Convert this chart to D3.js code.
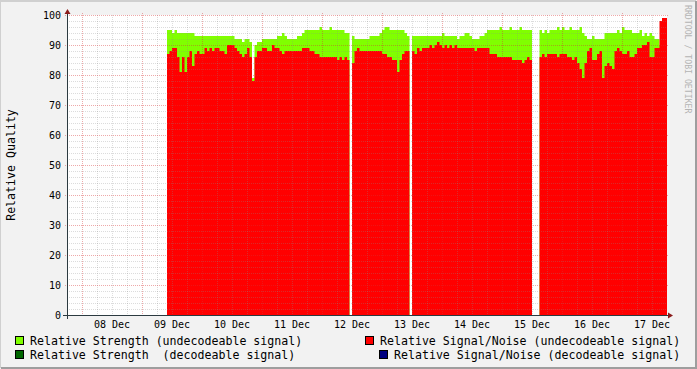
<!DOCTYPE html>
<html><head><meta charset="utf-8">
<script src="https://cdn.jsdelivr.net/npm/d3@7"></script>
<style>html,body{margin:0;padding:0;background:#F2F2F2;}svg{display:block;}</style>
</head><body>
<svg id="c" width="697" height="369"></svg>
<script>
// ---- data (hourly samples starting 09 Dec 10:00) ----
const startTime = Date.UTC(2013, 11, 9, 10);
const stepMs = 3600e3;
const strengthUndecodeable = [
 95,95,94,95,94,94,94,94,94,94,
 94,93,93,93,93,93,93,93,93,93,
 93,93,93,93,93,93,93,92,92,92,
 91,92,92,91,79,90,91,91,92,92,
 92,92,92,92,93,93,94,93,92,92,
 92,92,93,93,94,95,95,95,95,95,
 95,96,95,95,95,96,95,95,95,95,
 95,94,94,null,93,92,92,92,92,92,
 92,93,93,93,93,94,95,96,96,95,
 95,95,95,95,95,94,93,null,93,93,
 93,93,93,93,93,93,93,93,93,93,
 94,93,93,93,93,93,92,93,93,94,
 94,93,92,92,92,93,93,94,95,95,
 95,95,95,96,95,95,95,96,95,95,
 95,96,95,95,95,95,null,null,null,95,
 94,95,94,95,95,95,96,95,96,95,
 95,96,95,95,95,96,94,93,92,92,
 93,92,92,92,92,94,94,94,94,94,
 95,94,96,95,95,95,94,94,94,95,
 93,94,93,94,93,92,92,90,93,93
];
const snrUndecodeable = [
 87,88,89,89,86,81,86,81,86,88,
 83,87,88,87,87,89,88,89,88,89,
 89,88,88,87,90,90,90,89,88,87,
 86,87,89,86,78,86,88,88,89,89,
 88,88,90,89,89,88,87,88,88,88,
 88,88,88,88,89,89,89,88,88,87,
 87,86,86,86,86,86,86,86,85,86,
 85,86,85,null,84,88,89,88,88,88,
 88,88,88,88,88,88,87,87,86,86,
 85,85,81,85,87,88,88,null,88,87,
 89,88,89,89,89,90,89,90,91,90,
 89,90,89,90,89,90,89,89,89,89,
 89,89,89,88,89,89,89,89,89,87,
 87,87,86,86,86,86,86,86,85,85,
 85,85,84,85,86,85,null,null,null,86,
 87,86,87,87,87,87,86,87,87,87,
 86,86,85,86,84,82,79,84,88,89,
 85,85,87,88,79,83,84,83,82,88,
 89,88,87,87,88,86,86,87,89,89,
 90,90,91,86,86,89,89,98,99,99
];
const yTicks = [0,10,20,30,40,50,60,70,80,90,100];
const legendItems = [
 {label:"Relative Strength (undecodeable signal)", color:"#80FF00"},
 {label:"Relative Strength  (decodeable signal)", color:"#006600"},
 {label:"Relative Signal/Noise (undecodeable signal)", color:"#FF0000"},
 {label:"Relative Signal/Noise (decodeable signal)", color:"#000080"}
];
const yTitle = "Relative Quality";
const watermark = "RRDTOOL / TOBI OETIKER";

// ---- layout ----
const W = 697, H = 369;
const L = 67, R = 667, T = 15, B = 315;
const svg = d3.select("#c");
const mono = "'DejaVu Sans Mono', monospace";

const x = d3.scaleUtc().domain([Date.UTC(2013,11,7,18), Date.UTC(2013,11,17,18)]).range([L, R]);
const y = d3.scaleLinear().domain([0, 100]).range([B, T]);

// frame
svg.append("rect").attr("width", W).attr("height", H).attr("fill", "#F2F2F2");
svg.append("path").attr("d", `M0,${H-1} V1 H${W-1}`).attr("stroke", "#D0D0D0").attr("stroke-width", 2).attr("fill", "none");
svg.append("path").attr("d", `M1,${H-1} H${W-1} V1`).attr("stroke", "#9E9E9E").attr("stroke-width", 2).attr("fill", "none");

// canvas
svg.append("rect").attr("x", L).attr("y", T).attr("width", R - L).attr("height", B - T).attr("fill", "#FFFFFF");

// expand samples to step points
function stepPoints(vals) {
  const pts = [];
  vals.forEach((v, i) => {
    const t0 = startTime + i * stepMs;
    pts.push({t: t0, v});
    pts.push({t: t0 + stepMs, v});
  });
  return pts;
}
const area = d3.area()
  .defined(d => d.v != null)
  .x(d => x(d.t))
  .y0(y(0))
  .y1(d => y(d.v));

svg.append("path").datum(stepPoints(strengthUndecodeable)).attr("d", area).attr("fill", "#80FF00");
svg.append("path").datum(stepPoints(snrUndecodeable)).attr("d", area).attr("fill", "#FF0000");

// grid (drawn over data, semi-transparent)
const g = svg.append("g");
const minorCol = "rgba(140,140,140,0.3)";
const majorCol = "rgba(215,50,50,0.42)";
const minorX = d3.utcHour.every(6).range(x.domain()[0], x.domain()[1]);
minorX.forEach(d => {
  if (d.getUTCHours() === 0) return;
  const px = Math.round(x(d)) + 0.5;
  g.append("line").attr("x1", px).attr("x2", px).attr("y1", T).attr("y2", B)
    .attr("stroke", minorCol).attr("stroke-dasharray", "1,1");
});
for (let v = 2; v <= 100; v += 2) {
  if (v % 10 === 0) continue;
  const py = Math.round(y(v)) + 0.5;
  g.append("line").attr("x1", L).attr("x2", R).attr("y1", py).attr("y2", py)
    .attr("stroke", minorCol).attr("stroke-dasharray", "1,1");
}
const majorX = d3.utcDay.range(x.domain()[0], x.domain()[1]);
majorX.forEach(d => {
  const px = Math.round(x(d)) + 0.5;
  g.append("line").attr("x1", px).attr("x2", px).attr("y1", T - 2).attr("y2", B + 2)
    .attr("stroke", majorCol).attr("stroke-dasharray", "1,1");
});
yTicks.forEach(v => {
  if (v === 0) return;
  const py = Math.round(y(v)) + 0.5;
  g.append("line").attr("x1", L - 2).attr("x2", R + 2).attr("y1", py).attr("y2", py)
    .attr("stroke", majorCol).attr("stroke-dasharray", "1,1");
});

// axes
svg.append("line").attr("x1", L - 4).attr("x2", R + 2).attr("y1", B + 0.5).attr("y2", B + 0.5).attr("stroke", "#2C3A40");
svg.append("line").attr("x1", L + 0.5).attr("x2", L + 0.5).attr("y1", B + 4).attr("y2", T - 2).attr("stroke", "#2C3A40");
svg.append("path").attr("d", `M${R+1},${B-2.5} L${R+6},${B+0.5} L${R+1},${B+3.5} Z`).attr("fill", "#8B1C1C");
svg.append("path").attr("d", `M${L-2.5},${T-1} L${L+0.5},${T-6} L${L+3.5},${T-1} Z`).attr("fill", "#8B1C1C");

// y tick labels
svg.append("g").selectAll("text").data(yTicks).join("text")
  .attr("x", L - 6).attr("y", d => y(d) + 3.6)
  .attr("text-anchor", "end").attr("font-family", mono).attr("font-size", "10px").attr("fill", "#000")
  .text(d => d);

// x tick labels (centred at noon)
const fmt = d3.utcFormat("%d %b");
svg.append("g").selectAll("text").data(majorX).join("text")
  .attr("x", d => x(new Date(+d + 12 * 3600e3)))
  .attr("y", 328)
  .attr("text-anchor", "middle").attr("font-family", mono).attr("font-size", "10px").attr("fill", "#000")
  .text(d => fmt(d));

// y title
svg.append("text").attr("transform", `translate(15,${(T + B) / 2}) rotate(-90)`)
  .attr("text-anchor", "middle").attr("font-family", mono).attr("font-size", "11.6px").attr("fill", "#000")
  .text(yTitle);

// watermark
svg.append("text").attr("transform", `translate(685,5) rotate(90)`)
  .attr("font-family", mono).attr("font-size", "8.2px").attr("fill", "#B4B4B4")
  .text(watermark);

// legend
const legPos = [
  {sx: 15, tx: 30, y: 345},
  {sx: 15, tx: 30, y: 359},
  {sx: 365, tx: 380, y: 345},
  {sx: 379, tx: 394, y: 359}
];
legendItems.forEach((it, i) => {
  const p = legPos[i];
  svg.append("rect").attr("x", p.sx + 0.5).attr("y", p.y - 8.5).attr("width", 8).attr("height", 8)
    .attr("fill", it.color).attr("stroke", "#000").attr("stroke-width", 1);
  svg.append("text").attr("x", p.tx).attr("y", p.y)
    .attr("font-family", mono).attr("font-size", "11.6px").attr("fill", "#000")
    .attr("xml:space", "preserve").style("white-space", "pre")
    .text(it.label);
});
</script>
</body></html>
